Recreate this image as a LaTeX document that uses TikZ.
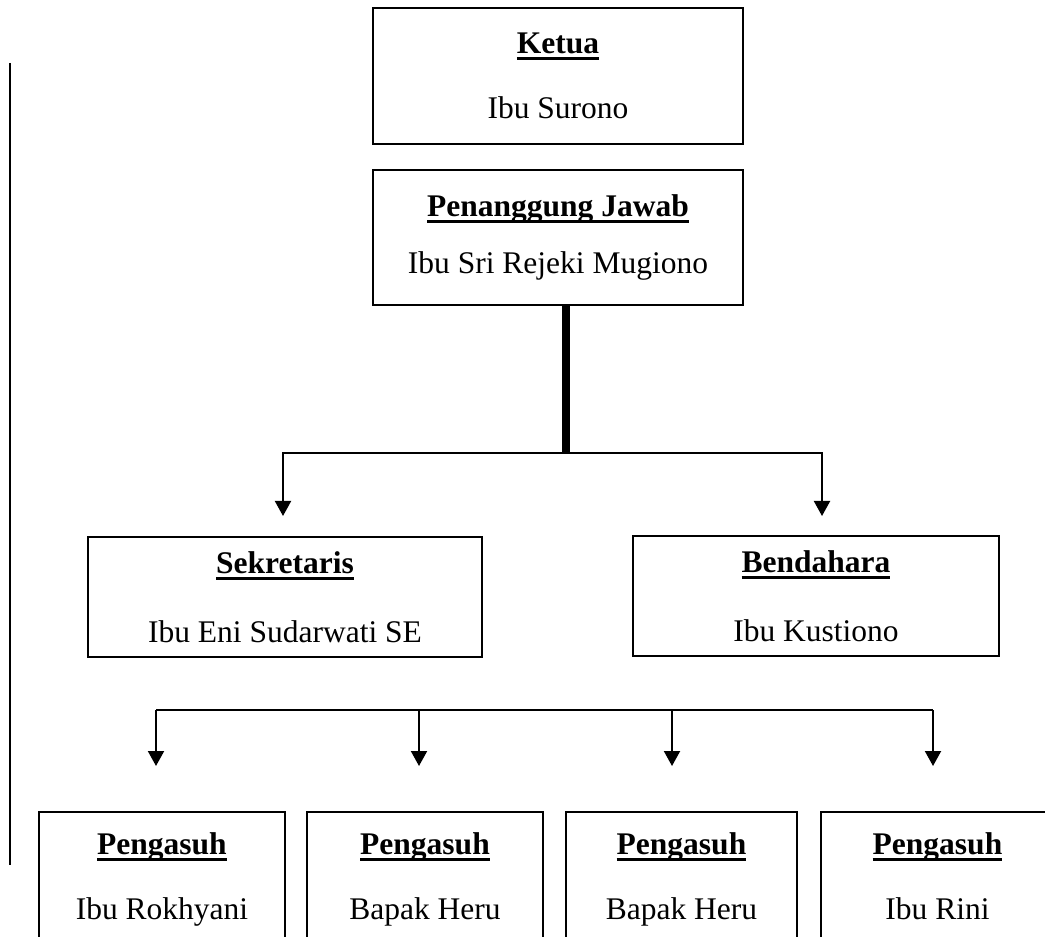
\documentclass[tikz,border=0pt]{standalone}
\usepackage{fontspec}
\setmainfont{Liberation Serif}
\usetikzlibrary{arrows.meta}
\newcommand{\judul}[1]{\setbox0=\hbox{\bfseries #1}\rlap{\rule[-2.6pt]{\wd0}{1.1pt}}\box0}
\tikzset{
  kotak/.style={draw,line width=0.8pt,align=center,inner sep=0pt,
    font=\fontsize{12.6}{26}\selectfont},
  garis/.style={line width=0.8pt},
  panah/.style={line width=0.8pt,-{Triangle[width=6.4pt,length=6pt]}},
  tebal/.style={line width=2.9pt}
}
\begin{document}
\begin{tikzpicture}[x=0.4pt,y=-0.4pt]
  \useasboundingbox (0,0) rectangle (1045,937);
  \clip (0,0) rectangle (1045,937);
  % Garis tepi kiri
  \draw[line width=1pt] (10,63) -- (10,865);
  % Pimpinan
  \node[kotak,minimum width=148pt,minimum height=54.4pt] (ketua) at (558,76)
    {\judul{Ketua}\\Ibu Surono};
  \node[kotak,minimum width=148pt,minimum height=54pt] (pj) at (558,237.5)
    {\judul{Penanggung Jawab}\\[-3pt]Ibu Sri Rejeki Mugiono};
  % Sekretaris dan bendahara
  \node[kotak,minimum width=157.6pt,minimum height=48pt] (sekr) at (285,597)
    {\judul{Sekretaris}\\[1.5pt]Ibu Eni Sudarwati SE};
  \node[kotak,minimum width=146.4pt,minimum height=48pt] (bend) at (816,596)
    {\judul{Bendahara}\\[1.5pt]Ibu Kustiono};
  % Pengasuh
  \node[kotak,minimum width=98.4pt,minimum height=53.6pt] (asuh1) at (162,879)
    {\judul{Pengasuh}\\Ibu Rokhyani};
  \node[kotak,minimum width=94.4pt,minimum height=53.6pt] (asuh2) at (425,879)
    {\judul{Pengasuh}\\Bapak Heru};
  \node[kotak,minimum width=92.4pt,minimum height=53.6pt] (asuh3) at (681.5,879)
    {\judul{Pengasuh}\\Bapak Heru};
  \node[kotak,minimum width=93.2pt,minimum height=53.6pt] (asuh4) at (937.5,879)
    {\judul{Pengasuh}\\Ibu Rini\vphantom{y}};

  % Cabang pertama
  \coordinate (cab1) at (566,453);
  \coordinate (ujung-sekr) at (283,516);
  \coordinate (ujung-bend) at (822,516);
  \draw[tebal] (pj.south -| cab1) -- (cab1);
  \draw[panah] (cab1) -| (ujung-sekr);
  \draw[panah] (cab1) -| (ujung-bend);
  % Cabang kedua
  \foreach \x [count=\i] in {156,419,672,933} {
    \coordinate (atas\i) at (\x,710);
    \coordinate (ujung\i) at (\x,766);
  }
  \draw[garis] (atas1) -- (atas4);
  \foreach \i in {1,...,4}
    \draw[panah] (atas\i) -- (ujung\i);
\end{tikzpicture}
\end{document}
